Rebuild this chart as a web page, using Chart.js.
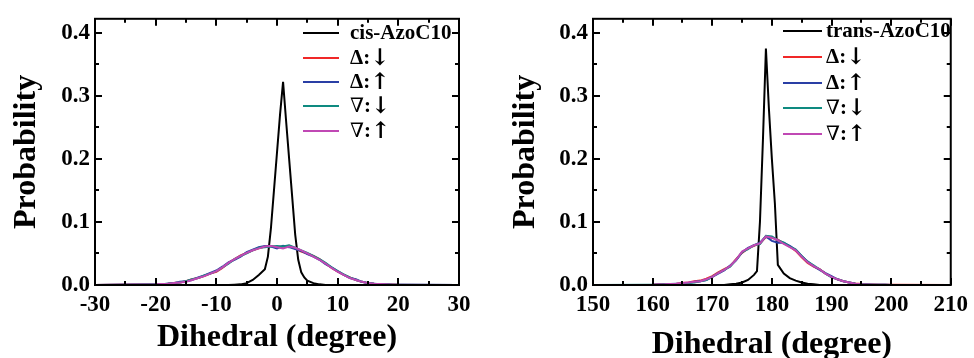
<!DOCTYPE html>
<html>
<head>
<meta charset="utf-8">
<script src="https://cdn.jsdelivr.net/npm/chart.js@4.4.1/dist/chart.umd.min.js"></script>
<style>
  html, body { margin: 0; padding: 0; background: #fff; }
  .wrap { display: flex; width: 974px; height: 358px; }
  canvas { display: block; }
</style>
</head>
<body>
<div class="wrap">
  <canvas id="cis" width="487" height="358"></canvas>
  <canvas id="trans" width="487" height="358"></canvas>
</div>
<script>
// ---- data ----
const legendLabels = ['Δ:↓', 'Δ:↑', '∇:↓', '∇:↑'];
const seriesColors = ['#f02828', '#2a3fa5', '#0e8a80', '#c048b4'];

// left panel, cis
const cisPeakX = [-30, -8, -7, -6, -5, -4, -3, -2, -1.5, -1, -0.5, 0, 0.5, 1, 1.5, 2, 2.5, 3, 3.5, 4, 4.5, 5, 6, 7, 8, 30];
const cisPeakY = [0, 0, 0.0005, 0.001, 0.003, 0.008, 0.016, 0.025, 0.045, 0.09, 0.15, 0.21, 0.27, 0.322, 0.26, 0.2, 0.14, 0.08, 0.04, 0.02, 0.012, 0.007, 0.003, 0.001, 0, 0];

const cisX = [-30, -20, -19, -18, -17, -16, -15, -14, -13, -12, -11, -10, -9, -8, -7, -6, -5, -4, -3, -2, -1,
  0, 1, 2, 3, 4, 5, 6, 7, 8, 9, 10, 11, 12, 13, 14, 15, 16, 17, 18, 19, 20, 30];
const cisDownDelta = [0, 0.001, 0.0015, 0.002, 0.003, 0.004, 0.006, 0.009, 0.011, 0.014, 0.018, 0.021, 0.027, 0.035, 0.041, 0.047, 0.051, 0.055, 0.058, 0.061, 0.062,
  0.060, 0.061, 0.062, 0.058, 0.053, 0.050, 0.046, 0.041, 0.034, 0.027, 0.021, 0.016, 0.012, 0.008, 0.005, 0.003, 0.002, 0.0015, 0.001, 0.0008, 0.0005, 0];
const cisUpDelta = [0, 0.0008, 0.001, 0.002, 0.003, 0.005, 0.006, 0.008, 0.012, 0.015, 0.019, 0.023, 0.029, 0.036, 0.040, 0.045, 0.052, 0.056, 0.060, 0.062, 0.061,
  0.058, 0.062, 0.060, 0.057, 0.054, 0.049, 0.045, 0.040, 0.033, 0.028, 0.022, 0.016, 0.011, 0.009, 0.005, 0.003, 0.002, 0.001, 0.001, 0.0005, 0.0003, 0];
const cisDownNabla = [0, 0.001, 0.001, 0.002, 0.003, 0.004, 0.006, 0.009, 0.011, 0.015, 0.018, 0.022, 0.028, 0.034, 0.041, 0.046, 0.050, 0.055, 0.059, 0.060, 0.061,
  0.062, 0.061, 0.063, 0.059, 0.055, 0.051, 0.046, 0.041, 0.035, 0.028, 0.022, 0.017, 0.012, 0.008, 0.005, 0.003, 0.002, 0.0015, 0.001, 0.0005, 0.0003, 0];
const cisUpNabla = [0, 0.001, 0.0015, 0.002, 0.003, 0.004, 0.005, 0.008, 0.011, 0.014, 0.018, 0.022, 0.028, 0.035, 0.041, 0.046, 0.051, 0.055, 0.058, 0.061, 0.062,
  0.060, 0.058, 0.061, 0.059, 0.055, 0.050, 0.045, 0.040, 0.034, 0.027, 0.021, 0.016, 0.011, 0.008, 0.005, 0.003, 0.002, 0.0015, 0.001, 0.0005, 0.0003, 0];

// right panel, trans
const transPeakX = [150, 172, 173, 174, 175, 176, 177, 177.5, 178, 178.5, 179, 179.5, 180, 180.5, 181, 182, 183, 184, 185, 186, 187, 188, 210];
const transPeakY = [0, 0, 0.001, 0.002, 0.004, 0.008, 0.016, 0.022, 0.1, 0.23, 0.375, 0.28, 0.2, 0.13, 0.032, 0.018, 0.011, 0.007, 0.004, 0.002, 0.001, 0, 0];

const transX = [150, 160, 161, 162, 163, 164, 165, 166, 167, 168, 169, 170, 171, 172, 173, 174, 175, 176, 177, 178, 179,
  180, 181, 182, 183, 184, 185, 186, 187, 188, 189, 190, 191, 192, 193, 194, 195, 196, 197, 198, 199, 200, 210];
const transDownDelta = [0, 0.0005, 0.001, 0.001, 0.0015, 0.002, 0.003, 0.004, 0.006, 0.007, 0.010, 0.014, 0.020, 0.025, 0.030, 0.041, 0.051, 0.058, 0.062, 0.066, 0.076,
  0.075, 0.072, 0.066, 0.061, 0.054, 0.044, 0.035, 0.029, 0.025, 0.018, 0.013, 0.009, 0.006, 0.004, 0.0025, 0.0015, 0.001, 0.0008, 0.0005, 0.0003, 0.0002, 0];
const transUpDelta = [0, 0.0005, 0.0008, 0.001, 0.0015, 0.002, 0.002, 0.003, 0.005, 0.006, 0.008, 0.013, 0.018, 0.023, 0.031, 0.039, 0.052, 0.059, 0.063, 0.067, 0.077,
  0.070, 0.067, 0.067, 0.062, 0.056, 0.046, 0.037, 0.030, 0.024, 0.019, 0.014, 0.009, 0.006, 0.004, 0.002, 0.001, 0.0008, 0.0005, 0.0003, 0.0002, 0.0001, 0];
const transDownNabla = [0, 0.0003, 0.0005, 0.001, 0.001, 0.0015, 0.002, 0.003, 0.004, 0.006, 0.008, 0.013, 0.019, 0.024, 0.029, 0.040, 0.052, 0.057, 0.063, 0.065, 0.078,
  0.077, 0.071, 0.067, 0.061, 0.056, 0.046, 0.037, 0.031, 0.025, 0.018, 0.012, 0.009, 0.006, 0.004, 0.002, 0.0012, 0.0008, 0.0005, 0.0003, 0.0002, 0.0001, 0];
const transUpNabla = [0, 0.0005, 0.0008, 0.001, 0.0015, 0.002, 0.003, 0.004, 0.005, 0.006, 0.009, 0.013, 0.019, 0.024, 0.030, 0.040, 0.053, 0.058, 0.063, 0.066, 0.077,
  0.075, 0.071, 0.065, 0.060, 0.055, 0.045, 0.036, 0.030, 0.025, 0.018, 0.013, 0.009, 0.006, 0.004, 0.002, 0.0012, 0.0008, 0.0005, 0.0003, 0.0002, 0.0001, 0];

const FONT = '"Liberation Serif", "DejaVu Serif", serif';

function pts(xs, ys) {
  return xs.map((x, i) => ({ x: x, y: ys[i] }));
}

// frame + inward ticks on all four sides
const framePlugin = {
  id: 'frame',
  afterDatasetsDraw(chart) {
    const ctx = chart.ctx;
    const a = chart.chartArea;
    const xs = chart.scales.x, ys = chart.scales.y;
    ctx.save();
    ctx.strokeStyle = '#000';
    ctx.lineWidth = 2;
    ctx.strokeRect(a.left, a.top, a.right - a.left, a.bottom - a.top);
    ctx.beginPath();
    for (let v = xs.min; v <= xs.max + 1e-9; v += 5) {
      const px = Math.round(xs.getPixelForValue(v));
      const len = ((v - xs.min) % 10 === 0) ? 7 : 4;
      ctx.moveTo(px, a.bottom); ctx.lineTo(px, a.bottom - len);
      ctx.moveTo(px, a.top); ctx.lineTo(px, a.top + len);
    }
    for (let k = 0; k <= 8; k++) {
      const py = Math.round(ys.getPixelForValue(k * 0.05));
      const len = (k % 2 === 0) ? 7 : 4;
      ctx.moveTo(a.left, py); ctx.lineTo(a.left + len, py);
      ctx.moveTo(a.right, py); ctx.lineTo(a.right - len, py);
    }
    ctx.stroke();
    ctx.restore();
  }
};

// font per glyph: the arrows and the nabla come from DejaVu
function glyphFont(ch) {
  if (ch === '↓' || ch === '↑') return 'bold 23px "DejaVu Serif"';
  if (ch === '∇') return '20px "DejaVu Serif"';
  return 'bold 21px ' + FONT;
}

// legend drawn inside the plot, top right
const boxLegend = {
  id: 'boxLegend',
  afterDraw(chart, args, opts) {
    const ctx = chart.ctx;
    ctx.save();
    ctx.textBaseline = 'middle';
    ctx.textAlign = 'left';
    chart.data.datasets.forEach((ds, i) => {
      const y = opts.rows[i];
      ctx.strokeStyle = ds.borderColor;
      ctx.lineWidth = 2;
      ctx.beginPath();
      ctx.moveTo(opts.x0, y); ctx.lineTo(opts.x1, y);
      ctx.stroke();
      ctx.fillStyle = '#000';
      let x = opts.tx;
      for (const ch of ds.label) {
        ctx.font = glyphFont(ch);
        ctx.fillText(ch, x, y + 1);
        x += ctx.measureText(ch).width;
      }
    });
    ctx.restore();
  }
};

function makeChart(id, cfg) {
  const datasets = [{
    label: cfg.peakLabel,
    data: pts(cfg.peakX, cfg.peakY),
    borderColor: '#000',
    order: 5
  }];
  cfg.series.forEach((ys, i) => {
    datasets.push({
      label: legendLabels[i],
      data: pts(cfg.xs, ys),
      borderColor: seriesColors[i],
      order: 4 - i
    });
  });
  datasets.forEach(d => { d.borderWidth = 2; d.pointRadius = 0; d.tension = 0; d.fill = false; });

  return new Chart(document.getElementById(id), {
    type: 'line',
    data: { datasets: datasets },
    options: {
      responsive: false,
      animation: false,
      devicePixelRatio: 1,
      layout: { padding: { top: cfg.top, right: cfg.right, left: 0, bottom: 0 } },
      plugins: {
        legend: { display: false },
        tooltip: { enabled: false },
        boxLegend: cfg.legend
      },
      scales: {
        x: {
          type: 'linear',
          min: cfg.xmin,
          max: cfg.xmax,
          afterFit: s => { s.height = 73; },
          grid: { display: false, drawTicks: false },
          border: { display: false },
          ticks: {
            stepSize: 10,
            padding: cfg.xTickPad,
            maxRotation: 0,
            autoSkip: false,
            color: '#000',
            font: { family: FONT, size: 23, weight: 'bold' }
          },
          title: {
            display: true,
            text: 'Dihedral (degree)',
            color: '#000',
            font: { family: FONT, size: 32, weight: 'bold' },
            padding: { top: 0, bottom: cfg.xTitlePad }
          }
        },
        y: {
          type: 'linear',
          min: 0,
          max: 0.422,
          afterFit: s => { s.width = cfg.yWidth; },
          grid: { display: false, drawTicks: false },
          border: { display: false },
          ticks: {
            stepSize: 0.1,
            includeBounds: false,
            padding: 5,
            color: '#000',
            font: { family: FONT, size: 23, weight: 'bold' },
            callback: v => v.toFixed(1)
          },
          title: {
            display: true,
            text: 'Probability',
            color: '#000',
            font: { family: FONT, size: 32, weight: 'bold' },
            padding: { top: cfg.yTitlePad, bottom: 0 }
          }
        }
      }
    },
    plugins: [framePlugin, boxLegend]
  });
}

makeChart('cis', {
  peakLabel: 'cis-AzoC10',
  peakX: cisPeakX, peakY: cisPeakY,
  xs: cisX,
  series: [cisDownDelta, cisUpDelta, cisDownNabla, cisUpNabla],
  xmin: -30, xmax: 30,
  top: 15, right: 28, yWidth: 95,
  xTickPad: 6, xTitlePad: 1, yTitlePad: 8,
  legend: { x0: 303, x1: 339, tx: 350, rows: [33, 58, 82, 106, 131] }
});

makeChart('trans', {
  peakLabel: 'trans-AzoC10',
  peakX: transPeakX, peakY: transPeakY,
  xs: transX,
  series: [transDownDelta, transUpDelta, transDownNabla, transUpNabla],
  xmin: 150, xmax: 210,
  top: 16, right: 18, yWidth: 106,
  xTickPad: 6, xTitlePad: -6, yTitlePad: 20,
  legend: { x0: 296, x1: 335, tx: 339, rows: [31, 57, 83, 108, 134] }
});
</script>
</body>
</html>
